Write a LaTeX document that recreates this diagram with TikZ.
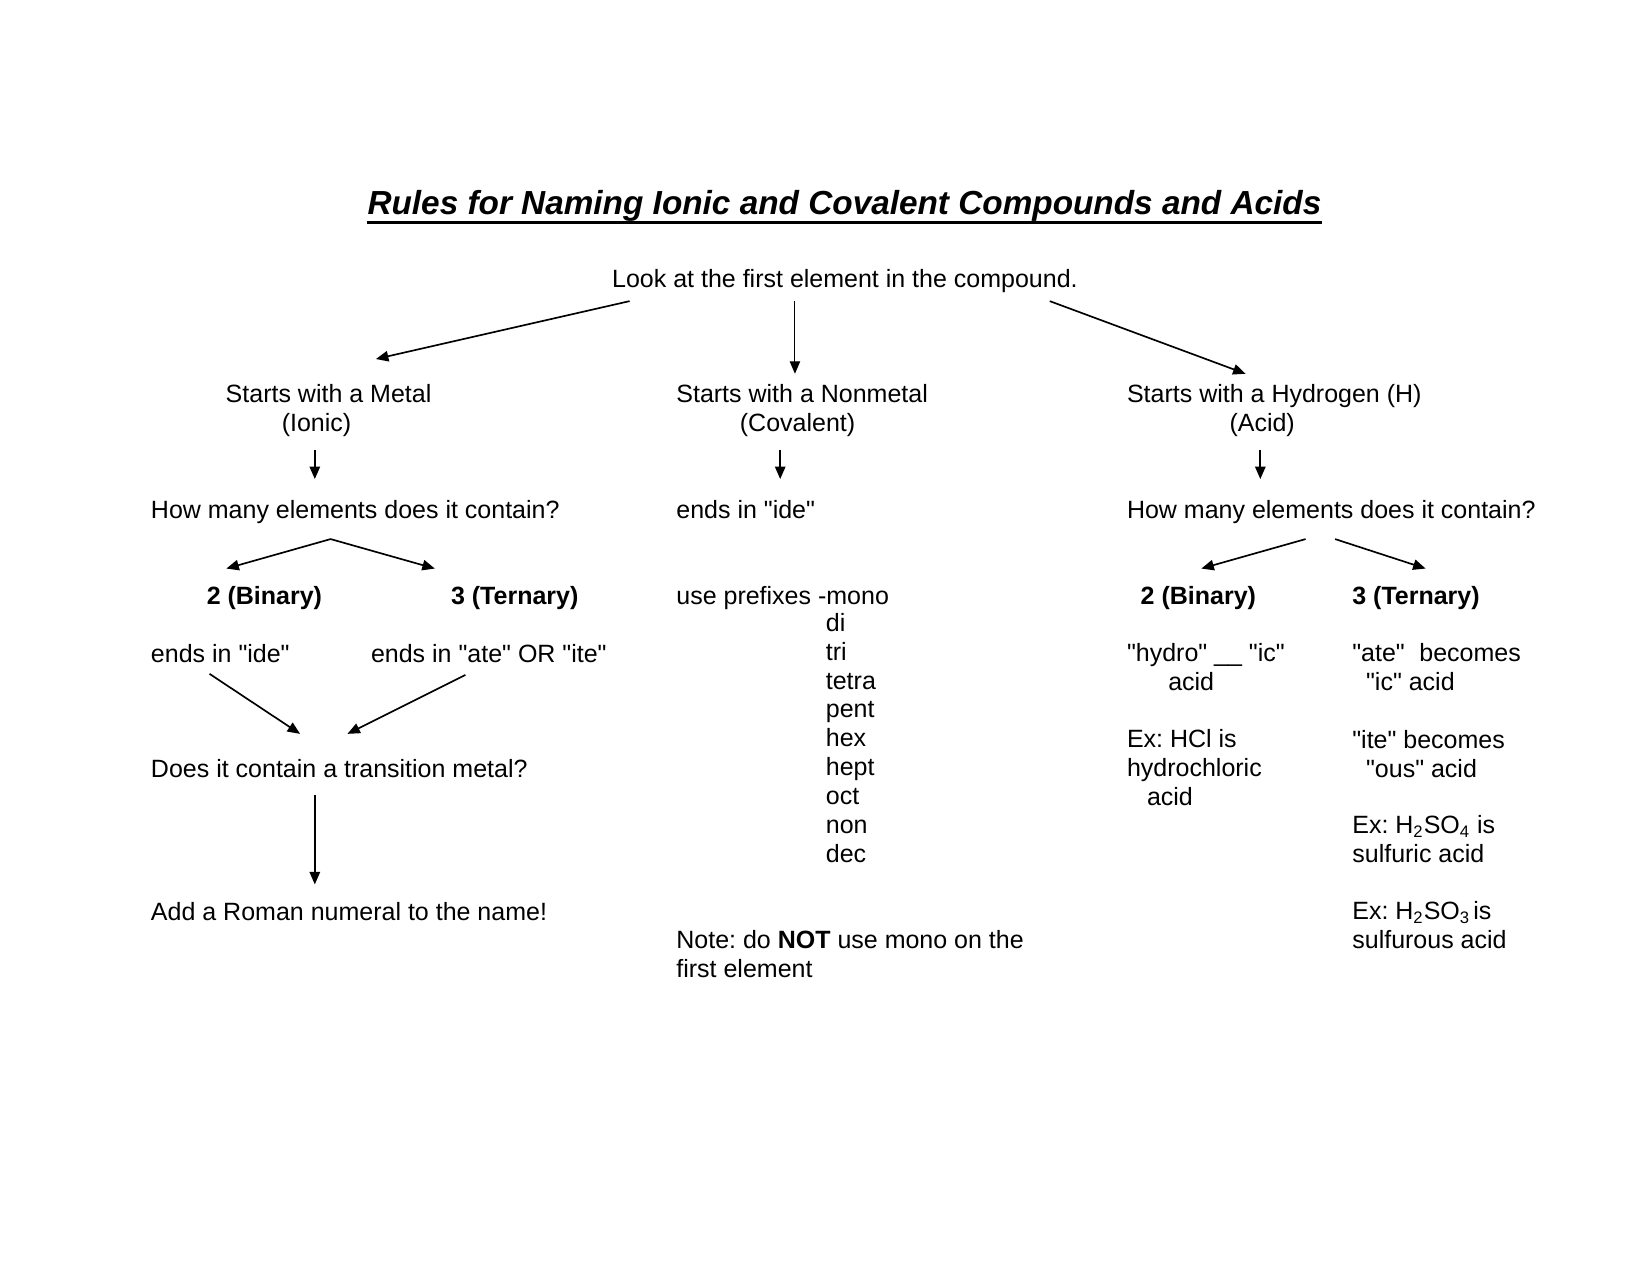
\documentclass[tikz,border=0pt]{standalone}
\usepackage{fontspec}
\setmainfont{Liberation Sans}[Ligatures=TeXOff]
\usetikzlibrary{arrows.meta}
\frenchspacing
\begin{document}
\begin{tikzpicture}[x=0.5054pt,y=-0.5054pt,
  txt/.style={anchor=base west, inner sep=0pt, font=\frenchspacing\fontsize{12}{13.86}\selectfont, align=left},
  arr/.style={-{Triangle[length=6pt,width=5pt]}, line width=0.8pt},
  thinarr/.style={-{Triangle[length=6pt,width=5pt]}, line width=0.5pt},
  dblarr/.style={{Triangle[length=6pt,width=5pt]}-{Triangle[length=6pt,width=5pt]}, line width=0.8pt, line join=miter}
]
\useasboundingbox (0,0) rectangle (1567.1,1210.9);

% title
\node[inner sep=0pt, anchor=base, font=\fontsize{16}{19}\selectfont\bfseries\itshape] (title) at (802,204)
  {Rules for Naming Ionic and Covalent Compounds and Acids};
\draw[line width=1.4pt] ([yshift=-3.6pt]title.base west) -- ([yshift=-3.6pt]title.base east);

% top
\node[txt] (look) at (581,273) {Look at the first element in the compound.};

% left column
\node[txt] (metal) at (214,410) {Starts with a Metal\\\hspace*{26.9pt}(Ionic)};
\node[txt] (howL) at (143,492) {How many elements does it contain?};
\node[txt] (binL) at (196,574) {\bfseries 2 (Binary)};
\node[txt] (terL) at (428,574) {\bfseries 3 (Ternary)};
\node[txt] (ideL) at (143,629) {ends in "ide"};
\node[txt] (ateL) at (352,629) {ends in "ate" OR "ite"};
\node[txt] (trans) at (143,738) {Does it contain a transition metal?};
\node[txt] (roman) at (143,874) {Add a Roman numeral to the name!};

% middle column
\node[txt] (nonmetal) at (642,410) {Starts with a Nonmetal\\\hspace*{30.5pt}(Covalent)};
\node[txt] (ideM) at (642,492) {ends in "ide"};
\node[txt] (prefix) at (642,574) {use prefixes -mono};
\node[txt] (plist) at (784,819) {di\\tri\\tetra\\pent\\hex\\hept\\oct\\non\\dec};
\node[txt] (note) at (642,928) {Note: do \textbf{NOT} use mono on the\\first element};

% right column
\node[txt] (hydrogen) at (1070,410) {Starts with a Hydrogen (H)\\\hspace*{49.2pt}(Acid)};
\node[txt] (howR) at (1070,492) {How many elements does it contain?};
\node[txt] (binR) at (1083,574) {\bfseries 2 (Binary)};
\node[txt] (terR) at (1284,574) {\bfseries 3 (Ternary)};
\node[txt] (hydro) at (1070,656) {"hydro" \_\_ "ic"\\\hspace*{19.8pt}acid};
\node[txt] (exHCl) at (1070,765) {Ex: HCl is\\hydrochloric\\\hspace*{9.6pt}acid};
\node[txt] (ateR) at (1284,656) {"ate"\hspace{7pt}becomes\\\hspace*{6.6pt}"ic" acid};
\node[txt] (iteR) at (1284,738) {"ite" becomes\\\hspace*{6.6pt}"ous" acid};
\node[txt] (exS4) at (1284,819) {Ex: H\textsubscript{2}SO\textsubscript{4} is\\sulfuric acid};
\node[txt] (exS3) at (1284,901) {Ex: H\textsubscript{2}SO\textsubscript{3}\hspace{1.5pt}is\\sulfurous acid};

% connector end points
\coordinate (t1) at (598,286); \coordinate (h1) at (357,341);
\coordinate (t2) at (755,286); \coordinate (h2) at (755,355);
\coordinate (t3) at (997,286); \coordinate (h3) at (1183,355);
\coordinate (m1) at (299,427); \coordinate (m2) at (299,455);
\coordinate (n1) at (741,427); \coordinate (n2) at (741,455);
\coordinate (r1) at (1197,427); \coordinate (r2) at (1197,455);
\coordinate (vl) at (215,540); \coordinate (vapex) at (314,512); \coordinate (vr) at (413,540);
\coordinate (i1) at (199,640); \coordinate (i2) at (285,697);
\coordinate (a1) at (442,641); \coordinate (a2) at (330,697);
\coordinate (d1) at (299,755); \coordinate (d2) at (299,840);
\coordinate (b1) at (1240,512); \coordinate (b2) at (1141,540);
\coordinate (c1) at (1268,512); \coordinate (c2) at (1354,540);

% connectors
\draw[arr] (t1) -- (h1);
\draw[thinarr] (t2) -- (h2);
\draw[arr] (t3) -- (h3);
\draw[arr] (m1) -- (m2);
\draw[arr] (n1) -- (n2);
\draw[arr] (r1) -- (r2);
\draw[dblarr] (vl) -- (vapex) -- (vr);
\draw[arr] (i1) -- (i2);
\draw[arr] (a1) -- (a2);
\draw[arr] (d1) -- (d2);
\draw[arr] (b1) -- (b2);
\draw[arr] (c1) -- (c2);
\end{tikzpicture}
\end{document}
